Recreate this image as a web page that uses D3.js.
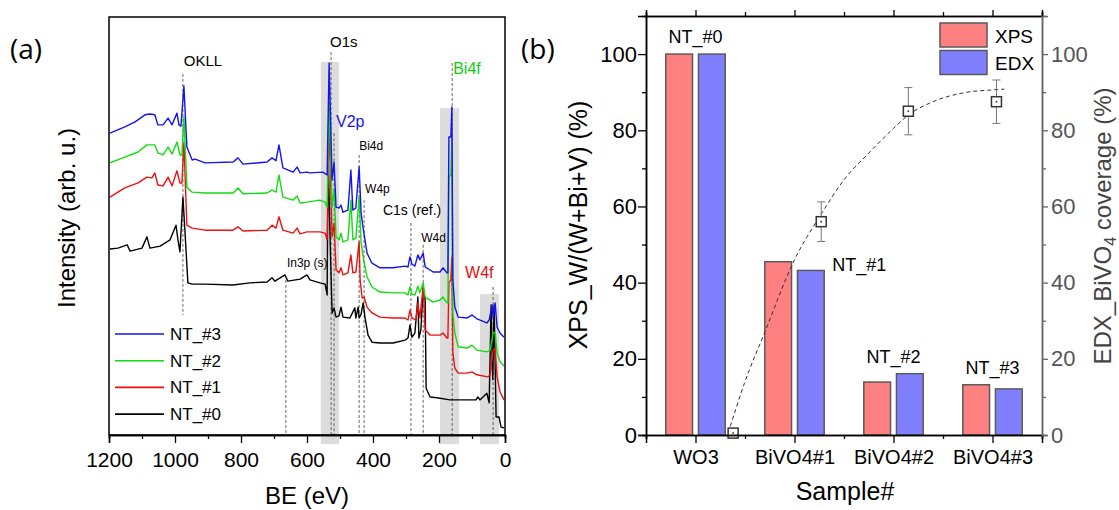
<!DOCTYPE html>
<html lang="en">
<head>
<meta charset="UTF-8" />
<script src="https://d3js.org/d3.v7.min.js"></script>
<title>XPS survey / XPS-EDX composition</title>
<style>
  body { margin: 0; background: #fff; }
  text { font-family: "Liberation Sans", Arial, sans-serif; }
</style>
</head>
<body>
<script>
var width = 1119, height = 510;
var svg = d3.select("body").append("svg").attr("width", width).attr("height", height);

// ---------- (a) XPS survey spectra : [BE (eV), intensity (arb. u.)] ----------
var beTicks = [1200, 1000, 800, 600, 400, 200, 0];
var beMinor = [1100, 900, 700, 500, 300, 100];
var seriesNames = ["NT_#0", "NT_#1", "NT_#2", "NT_#3"];
var seriesColors = ["#000000", "#ee1111", "#11dd11", "#1414ee"];

var nt3 = [[1197,72.2],[1152,73.7],[1121,74.9],[1091,76.6],[1076,76.8],[1061,76.6],[1052,74.2],[1036,74.2],[1021,75.8],[1009,74.2],[994,77.0],[988,74.2],[982,73.9],[973,83.5],[964,68.9],[948,65.8],[939,66.0],[909,65.1],[824,65.3],[809,66.3],[794,64.8],[721,65.3],[706,66.3],[694,65.6],[685,69.4],[673,63.9],[642,62.9],[630,64.1],[621,62.7],[600,62.9],[591,62.7],[552,62.9],[539,62.2],[533,89.0],[524,61.0],[518,65.3],[512,54.5],[503,54.3],[497,55.0],[491,53.3],[476,53.8],[467,63.4],[461,53.8],[452,54.3],[442,64.1],[436,53.1],[430,49.5],[418,43.5],[403,41.1],[379,40.0],[339,40.0],[303,40.4],[294,40.2],[288,42.6],[282,40.9],[273,40.4],[264,43.1],[258,41.9],[248,43.5],[242,40.2],[218,39.0],[197,39.0],[188,40.0],[176,38.8],[173,38.8],[170,71.3],[164,71.3],[161,78.5],[158,37.1],[152,30.6],[142,28.2],[115,28.0],[100,28.7],[85,27.8],[55,26.8],[48,27.5],[39,31.1],[36,28.0],[30,31.6],[24,25.8],[15,24.4],[3,23.4]];
var nt2 = [[1197,65.1],[1152,66.5],[1112,67.7],[1085,69.4],[1061,69.4],[1052,67.5],[1036,67.0],[1021,68.9],[1009,67.2],[994,70.1],[985,67.0],[979,67.0],[973,76.1],[964,59.3],[948,58.1],[909,57.9],[824,57.9],[809,59.1],[794,57.7],[721,57.9],[706,58.6],[694,58.1],[685,62.2],[673,56.9],[642,56.2],[630,57.2],[621,55.5],[600,55.7],[561,56.2],[545,55.7],[539,54.5],[533,79.7],[524,54.5],[518,58.6],[512,47.4],[503,46.7],[497,48.3],[491,46.2],[476,46.7],[467,56.2],[461,46.7],[452,47.1],[442,56.9],[436,45.9],[430,42.6],[418,37.8],[403,35.4],[379,34.2],[339,34.0],[303,34.0],[294,33.5],[288,35.4],[282,33.7],[273,33.5],[264,35.6],[258,34.0],[248,36.4],[242,33.0],[218,31.8],[197,32.3],[188,33.0],[176,31.6],[173,31.6],[170,61.7],[164,62.2],[161,70.6],[158,29.2],[152,24.4],[142,21.1],[115,20.8],[100,21.5],[85,20.3],[55,19.9],[45,20.3],[36,24.4],[30,24.6],[24,19.6],[15,17.5],[3,16.5]];
var nt1 = [[1197,56.9],[1152,59.1],[1112,60.3],[1085,61.7],[1070,61.5],[1061,62.7],[1052,59.8],[1036,59.6],[1021,61.7],[1009,59.6],[994,63.2],[985,60.3],[979,60.3],[973,69.9],[964,50.2],[948,49.5],[909,49.0],[824,49.0],[809,49.8],[794,48.8],[721,49.0],[706,50.2],[694,49.5],[685,52.2],[673,49.0],[642,48.3],[630,49.5],[621,48.1],[600,48.6],[561,48.6],[545,48.3],[539,46.7],[533,75.4],[524,47.4],[518,50.7],[512,39.5],[503,38.8],[497,40.0],[491,38.3],[476,38.8],[467,43.1],[461,38.8],[452,39.0],[442,46.2],[439,37.1],[433,32.8],[427,33.0],[418,30.6],[403,29.2],[379,28.2],[339,28.0],[303,28.0],[294,27.5],[288,29.9],[282,28.0],[270,27.5],[264,31.6],[258,28.0],[248,35.4],[242,25.1],[227,23.9],[197,23.9],[188,24.4],[176,23.2],[173,23.2],[170,36.4],[164,37.1],[161,42.6],[158,19.6],[152,16.0],[142,14.8],[115,14.8],[100,15.1],[85,14.4],[52,13.9],[45,14.4],[36,20.3],[30,20.8],[24,13.9],[15,10.3],[3,8.4]];
var nt0 = [[1197,44.5],[1173,44.7],[1145,45.5],[1136,44.0],[1100,44.7],[1085,47.4],[1076,44.7],[1045,45.2],[1015,46.7],[997,50.2],[991,46.7],[985,43.8],[976,56.9],[970,49.0],[961,36.4],[948,36.1],[909,36.1],[824,35.9],[773,36.4],[721,36.6],[706,37.6],[697,36.8],[667,38.3],[658,36.8],[621,37.3],[600,38.3],[591,37.1],[561,36.4],[545,36.1],[539,33.5],[536,67.5],[530,46.7],[524,29.2],[518,30.4],[512,28.2],[503,28.5],[497,30.6],[491,28.2],[470,28.0],[455,30.4],[452,28.0],[445,30.6],[442,28.0],[436,28.9],[430,31.6],[424,28.0],[415,23.9],[403,22.2],[379,22.0],[339,22.0],[303,22.7],[294,23.2],[288,26.3],[282,23.4],[273,24.4],[264,33.0],[261,23.2],[255,25.1],[248,35.2],[242,32.3],[239,11.2],[227,9.1],[206,8.9],[167,8.4],[115,8.4],[88,8.4],[82,9.1],[76,8.4],[55,10.0],[48,7.7],[42,31.1],[39,17.9],[37,13.2],[33,31.1],[27,4.3],[18,4.3],[12,1.9],[3,1.7]];
var spectra = [nt0, nt1, nt2, nt3];

var peakNames = ["OKLL", "In3p (s)", "O1s", "V2p", "Bi4d", "W4p", "C1s (ref.)", "W4d", "Bi4f", "W4f"];
var peakBE = [976, 664, 527, 518, 442, 427, 285, 248, 160, 36];
var peakTop = [86.4, 37.1, 91.6, 72.2, 67.0, 56.2, 50.7, 45.5, 89.0, 35.4];
var bandFrom = [558, 197, 76];
var bandTo = [503, 139, 18];
var bandTop = [89.2, 78.2, 33.7];

// ---------- (b) composition ----------
var samples = ["WO3", "BiVO4#1", "BiVO4#2", "BiVO4#3"];
var sampleTags = ["NT_#0", "NT_#1", "NT_#2", "NT_#3"];
var xpsVals = [100, 45.5, 13.9, 13.2];
var edxVals = [100, 43.2, 16.1, 12.1];
var pctTicks = [0, 20, 40, 60, 80, 100];
var pctMinor = [10, 30, 50, 70, 90];
var covPos = [1.38, 2.27, 3.15, 4.04];
var covVals = [0.5, 56, 85, 87.5];
var covErr = [0, 5.2, 6.2, 5.7];
var fitPos = [1.33, 1.5, 1.7, 2.0, 2.27, 2.5, 2.75, 3.0, 3.15, 3.4, 3.7, 4.0, 4.12];
var fitVals = [0.5, 14, 27, 46, 58, 67, 74, 80.5, 84, 87.5, 89.8, 90.6, 90.8];

// ================= panel (a) =================
var xA = d3.scaleLinear().domain([1200, 0]).range([109, 505]);
var yA = d3.scaleLinear().domain([0, 100]).range([435, 17]);
var gA = svg.append("g");

bandFrom.forEach(function(b, i) {
  gA.append("rect").attr("x", xA(b)).attr("width", xA(bandTo[i]) - xA(b))
    .attr("y", yA(bandTop[i])).attr("height", yA(-2.2) - yA(bandTop[i]))
    .attr("fill", "#dcdcdc");
});

var peakBottom = { "OKLL": 28.7 };
peakNames.forEach(function(p, i) {
  var b = peakBottom[p] !== undefined ? peakBottom[p] : 0;
  gA.append("line").attr("x1", xA(peakBE[i])).attr("x2", xA(peakBE[i]))
    .attr("y1", yA(peakTop[i])).attr("y2", yA(b))
    .attr("stroke", "#555").attr("stroke-width", 0.9).attr("stroke-dasharray", "3,2");
});

var line = d3.line().x(function(d) { return xA(d[0]); }).y(function(d) { return yA(d[1]); });
spectra.forEach(function(s, i) {
  gA.append("path").datum(s).attr("d", line).attr("fill", "none")
    .attr("stroke", seriesColors[i]).attr("stroke-width", 1.4).attr("stroke-linejoin", "round");
});

// peak labels: [dx, dy, size, anchor, colour]
var labelStyle = {
  "OKLL": [20, -8, 15, "middle", "#000"],
  "In3p (s)": [1, -13, 12, "start", "#000"],
  "O1s": [-1, -5, 15, "start", "#000"],
  "V2p": [2, -6, 16, "start", "#1414ee"],
  "Bi4d": [0, -5, 12, "start", "#000"],
  "W4p": [1, -7, 12, "start", "#000"],
  "C1s (ref.)": [-28, -8, 14, "start", "#000"],
  "W4d": [-2, -3, 12, "start", "#000"],
  "Bi4f": [1, 11, 16, "start", "#11cc11"],
  "W4f": [-28, -9, 16, "start", "#dd1111"]
};
peakNames.forEach(function(p, i) {
  var s = labelStyle[p];
  gA.append("text").attr("x", xA(peakBE[i]) + s[0]).attr("y", yA(peakTop[i]) + s[1])
    .attr("font-size", s[2]).attr("text-anchor", s[3]).attr("fill", s[4]).text(p);
});

// legend (a)
seriesNames.slice().reverse().forEach(function(n, k) {
  var c = seriesColors[3 - k], y = 334 + k * 26.7;
  gA.append("line").attr("x1", 115).attr("x2", 164).attr("y1", y).attr("y2", y)
    .attr("stroke", c).attr("stroke-width", 1.6);
  gA.append("text").attr("x", 170).attr("y", y + 6).attr("font-size", 17).text(n);
});

// frame + axes (a)
gA.append("rect").attr("x", 109).attr("y", 17).attr("width", 396).attr("height", 418)
  .attr("fill", "none").attr("stroke", "#000").attr("stroke-width", 1.5);
var axA = gA.append("g").attr("transform", "translate(0,435)")
  .call(d3.axisBottom(xA).tickValues(beTicks).tickSize(8).tickPadding(9).tickFormat(d3.format("d")));
gA.append("g").attr("transform", "translate(0,435)")
  .call(d3.axisBottom(xA).tickValues(beMinor).tickSize(4).tickFormat(""));
gA.selectAll(".domain").attr("stroke-width", 1.5);
gA.selectAll(".tick line").attr("stroke-width", 1.3);
axA.selectAll("text").attr("font-size", 21).attr("font-family", "Liberation Sans, Arial, sans-serif");

gA.append("text").attr("transform", "translate(75,218) rotate(-90)").attr("text-anchor", "middle")
  .attr("font-size", 24).text("Intensity (arb. u.)");
gA.append("text").attr("x", 307).attr("y", 504).attr("text-anchor", "middle")
  .attr("font-size", 24).text("BE (eV)");
svg.append("text").attr("x", 10).attr("y", 59).attr("font-size", 28)
  .style("font-family", "'Open Sans', sans-serif").text("(a)");

// ================= panel (b) =================
var xB = d3.scaleLinear().domain([0.5, 4.5]).range([646, 1042]);
var yB = d3.scaleLinear().domain([0, 110]).range([435, 16]);
var gB = svg.append("g");
var bw = 0.27, off = 0.165;

samples.forEach(function(s, i) {
  var c = i + 1;
  gB.append("rect").attr("x", xB(c - off - bw / 2)).attr("width", xB(bw) - xB(0))
    .attr("y", yB(xpsVals[i])).attr("height", yB(0) - yB(xpsVals[i]))
    .attr("fill", "#ff8080").attr("stroke", "#5a5a5a").attr("stroke-width", 1.5);
  gB.append("rect").attr("x", xB(c + off - bw / 2)).attr("width", xB(bw) - xB(0))
    .attr("y", yB(edxVals[i])).attr("height", yB(0) - yB(edxVals[i]))
    .attr("fill", "#8080ff").attr("stroke", "#5a5a5a").attr("stroke-width", 1.5);
});

// tags above bars
sampleTags.forEach(function(t, i) {
  var top = Math.max(xpsVals[i], edxVals[i]);
  var txt = gB.append("text").attr("font-size", 18).text(t);
  if (i === 1) {
    txt.attr("x", xB(i + 1 + off + bw / 2) + 8).attr("y", yB(edxVals[i]) + 1);
  } else {
    txt.attr("x", xB(i + 1)).attr("y", yB(top) - 11).attr("text-anchor", "middle");
  }
});

// fit curve
var fitLine = d3.line().curve(d3.curveMonotoneX)
  .x(function(d, i) { return xB(fitPos[i]); }).y(function(d) { return yB(d); });
gB.append("path").datum(fitVals).attr("d", fitLine).attr("fill", "none")
  .attr("stroke", "#333").attr("stroke-width", 1).attr("stroke-dasharray", "4,3");

// coverage points with error bars
covVals.forEach(function(v, i) {
  var x = xB(covPos[i]);
  if (covErr[i] > 0) {
    gB.append("line").attr("x1", x).attr("x2", x).attr("y1", yB(v + covErr[i])).attr("y2", yB(v - covErr[i]))
      .attr("stroke", "#777").attr("stroke-width", 1);
    [v + covErr[i], v - covErr[i]].forEach(function(e) {
      gB.append("line").attr("x1", x - 4).attr("x2", x + 4).attr("y1", yB(e)).attr("y2", yB(e))
        .attr("stroke", "#777").attr("stroke-width", 1);
    });
  }
  gB.append("rect").attr("x", x - 5).attr("y", yB(v) - 5).attr("width", 10).attr("height", 10)
    .attr("fill", "#fff").attr("stroke", "#333").attr("stroke-width", 1.5);
  gB.append("rect").attr("x", x - 0.8).attr("y", yB(v) - 0.8).attr("width", 1.6).attr("height", 1.6)
    .attr("fill", "#333");
});

// axes (b)
var fontB = "Liberation Sans, Arial, sans-serif";
var axBottom = gB.append("g").attr("transform", "translate(0,435)")
  .call(d3.axisBottom(xB).tickValues([1, 2, 3, 4]).tickSize(8).tickPadding(7)
    .tickFormat(function(d) { return samples[d - 1]; }));
gB.append("g").attr("transform", "translate(0,435)")
  .call(d3.axisBottom(xB).tickValues([0.5, 1.5, 2.5, 3.5, 4.5]).tickSize(4).tickFormat(""));
gB.append("g").attr("transform", "translate(0,16)")
  .call(d3.axisTop(xB).tickValues([1, 2, 3, 4]).tickSize(6).tickFormat(""));
gB.append("g").attr("transform", "translate(0,16)")
  .call(d3.axisTop(xB).tickValues([0.5, 1.5, 2.5, 3.5, 4.5]).tickSize(4).tickFormat(""));
var axLeft = gB.append("g").attr("transform", "translate(646,0)")
  .call(d3.axisLeft(yB).tickValues(pctTicks).tickSize(8).tickPadding(1));
gB.append("g").attr("transform", "translate(646,0)")
  .call(d3.axisLeft(yB).tickValues(pctMinor).tickSize(4).tickFormat(""));
var axRight = gB.append("g").attr("class", "gray").attr("transform", "translate(1042,0)")
  .call(d3.axisRight(yB).tickValues(pctTicks).tickSize(6).tickPadding(3));
gB.append("g").attr("class", "gray").attr("transform", "translate(1042,0)")
  .call(d3.axisRight(yB).tickValues(pctMinor).tickSize(4).tickFormat(""));
gB.selectAll(".domain").attr("stroke-width", 1.5);
gB.selectAll(".tick line").attr("stroke-width", 1.3);
gB.selectAll(".gray .domain, .gray .tick line").attr("stroke", "#666");
axBottom.selectAll("text").attr("font-size", 20).attr("font-family", fontB);
axLeft.selectAll("text").attr("font-size", 22).attr("font-family", fontB);
axRight.selectAll("text").attr("font-size", 22).attr("font-family", fontB).attr("fill", "#555");

// legend (b)
[["XPS", "#ff8080"], ["EDX", "#8080ff"]].forEach(function(l, k) {
  gB.append("rect").attr("x", 940).attr("y", 23 + k * 27.5).attr("width", 47).attr("height", 24)
    .attr("fill", l[1]).attr("stroke", "#5a5a5a").attr("stroke-width", 1.5);
  gB.append("text").attr("x", 995).attr("y", 43 + k * 27).attr("font-size", 19).text(l[0]);
});

gB.append("text").attr("transform", "translate(587,225) rotate(-90)").attr("text-anchor", "middle")
  .attr("font-size", 25).text("XPS_W/(W+Bi+V) (%)");
var rl = gB.append("text").attr("transform", "translate(1111,226) rotate(-90)").attr("text-anchor", "middle")
  .attr("font-size", 24).attr("fill", "#444");
rl.append("tspan").text("EDX_BiVO");
rl.append("tspan").attr("font-size", 16).attr("dy", 5).text("4");
rl.append("tspan").attr("dy", -5).text(" coverage (%)");
gB.append("text").attr("x", 845).attr("y", 500).attr("text-anchor", "middle")
  .attr("font-size", 25).text("Sample#");
svg.append("text").attr("x", 521).attr("y", 59).attr("font-size", 28)
  .style("font-family", "'Open Sans', sans-serif").text("(b)");
</script>
</body>
</html>
